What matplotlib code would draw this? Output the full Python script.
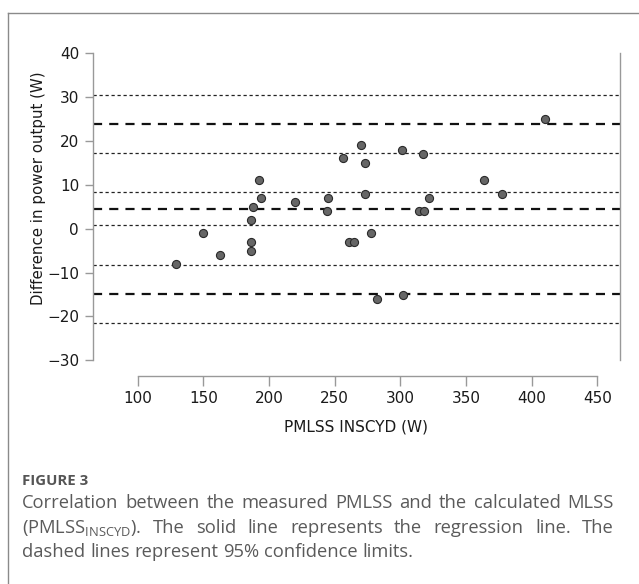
import matplotlib

matplotlib.use("Agg")
import matplotlib.pyplot as plt
from matplotlib.lines import Line2D

# measured PMLSS (x) and difference to calculated MLSS (y)
pmlss = [129, 150, 163, 186, 186, 186, 188, 192, 194, 220, 244, 245, 256,
         261, 265, 270, 273, 273, 278, 282, 301, 302, 314, 318, 317, 322,
         364, 377, 410]
diff = [-8, -1, -6, 2, -3, -5, 5, 11, 7, 6, 4, 7, 16,
        -3, -3, 19, 15, 8, -1, -16, 18, -15, 4, 4, 17, 7,
        11, 8, 25]

mean_diff = 4.5
limits_of_agreement = [23.85, -14.8]
ci_lines = [30.4, 17.3, 8.35, 0.75, -8.3, -21.4]

x_ticks = [100, 150, 200, 250, 300, 350, 400, 450]
y_ticks = [-30, -20, -10, 0, 10, 20, 30, 40]

caption_title = "FIGURE 3"
caption_lines = [
    "Correlation between the measured PMLSS and the calculated MLSS",
    r"(PMLSS$_{\mathrm{INSCYD}}$). The solid line represents the regression line. The",
    "dashed lines represent 95% confidence limits.",
]

W, H = 639, 584
plt.rcParams["mathtext.fontset"] = "custom"
plt.rcParams["mathtext.rm"] = "Open Sans"

fig = plt.figure(figsize=(W / 100, H / 100), dpi=100)
ax = fig.add_axes([93 / W, (H - 375.7) / H, (620 - 93) / W, (375.7 - 53.1) / H])

spine_color = "#999999"

for y in ci_lines:
    ax.axhline(y, color="#222222", lw=0.9, ls=(0, (2.6, 2.2)), zorder=1)
for y in [mean_diff] + limits_of_agreement:
    ax.axhline(y, color="#111111", lw=1.6, ls=(0, (4.1, 3.2)), zorder=1)

ax.scatter(pmlss, diff, s=34, color="#666666", edgecolor="#2a2a2a",
           linewidth=0.8, zorder=3)

ax.set_xlim(66, 467.2)
ax.set_ylim(-33.5, 40)
ax.set_xticks(x_ticks)
ax.set_yticks(y_ticks)

ax.spines["top"].set_visible(False)
for side in ["left", "right", "bottom"]:
    ax.spines[side].set_color(spine_color)
    ax.spines[side].set_linewidth(1.0)
ax.spines["left"].set_bounds(-30, 40)
ax.spines["right"].set_bounds(-30, 40)
ax.spines["bottom"].set_bounds(100, 450)

ax.tick_params(axis="x", length=7, width=1, color=spine_color,
               labelsize=11, labelcolor="#1a1a1a", pad=4)
ax.tick_params(axis="y", length=6, width=1, color=spine_color,
               labelsize=11, labelcolor="#1a1a1a", pad=4)

ax.set_xlabel("PMLSS INSCYD (W)", fontsize=11, color="#1a1a1a", labelpad=10)
ax.set_ylabel("Difference in power output (W)", fontsize=10.8, color="#1a1a1a")
ax.yaxis.set_label_coords(-0.09, 0.58)

# caption frame
fig.add_artist(Line2D([8 / W, 8 / W], [0, (H - 13) / H], color="#8a8a8a",
                      lw=1.0, transform=fig.transFigure))
fig.add_artist(Line2D([8 / W, 1], [(H - 13) / H, (H - 13) / H],
                      color="#8a8a8a", lw=1.0, transform=fig.transFigure))

fig.text(22 / W, (H - 485) / H, caption_title, fontsize=10.8,
         family="Open Sans", weight="bold", color="#555555",
         va="baseline")

renderer = fig.canvas.get_renderer()
caption_kw = dict(fontsize=13.2, family="Open Sans", color="#5a5a5a",
                  va="baseline")
left_px, right_px = 22, 614
baselines = [508, 533, 557]
for i, (line, base) in enumerate(zip(caption_lines, baselines)):
    words = line.split(" ")
    texts = [fig.text(0, (H - base) / H, w, **caption_kw) for w in words]
    widths = [t.get_window_extent(renderer).width for t in texts]
    if i < len(caption_lines) - 1:
        gap = (right_px - left_px - sum(widths)) / (len(words) - 1)
    else:
        space = fig.text(0, 0, "a a", **caption_kw)
        two = fig.text(0, 0, "aa", **caption_kw)
        gap = (space.get_window_extent(renderer).width
               - two.get_window_extent(renderer).width)
        space.remove()
        two.remove()
    x = left_px
    for t, w in zip(texts, widths):
        t.set_x(x / W)
        x += w + gap

fig.savefig("out.png", dpi=100)
